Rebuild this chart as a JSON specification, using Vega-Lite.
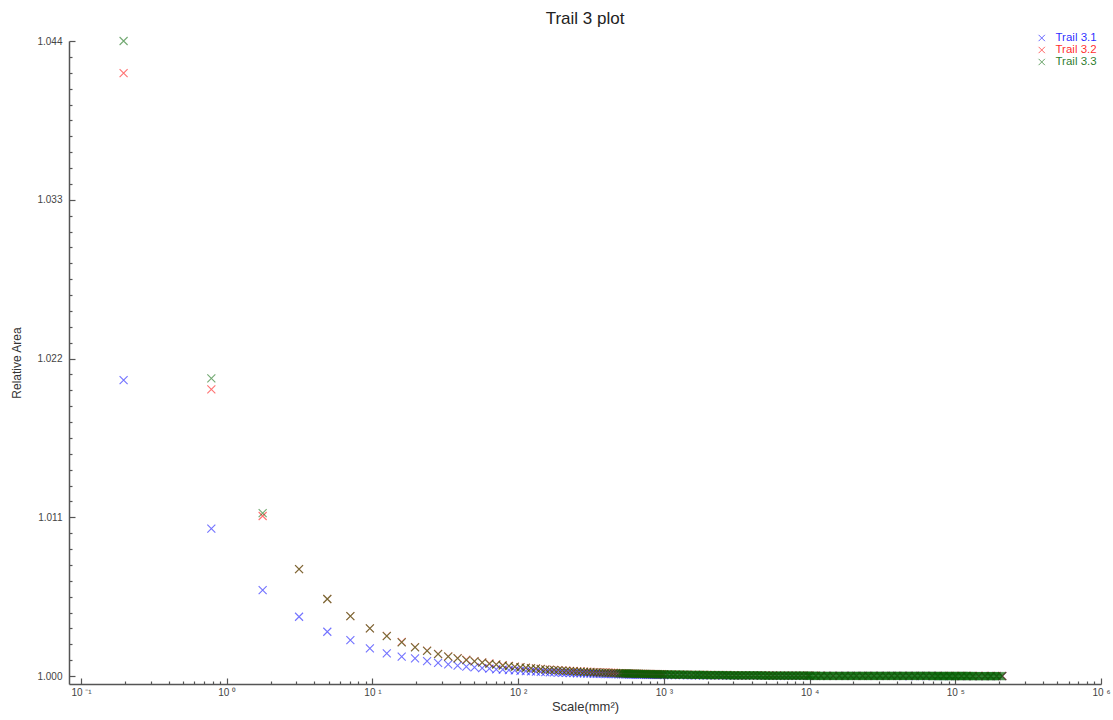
{
"$schema": "https://vega.github.io/schema/vega-lite/v6.json",
"autosize": {"type": "none"},
"padding": {"left": 69, "top": 41, "right": 12, "bottom": 36},
"width": 1032,
"height": 643,
"background": "white",
"title": {"text": "Trail 3 plot", "fontSize": 17, "font": "Liberation Sans", "fontWeight": "normal", "color": "#222222", "anchor": "middle", "baseline": "alphabetic", "offset": -8.5},
"config": {"view": {"stroke": null}, "axis": {"grid": false},
  "legend": {"orient": "none", "legendX": 967, "title": null, "padding": 0, "labelFont": "Liberation Sans", "labelFontSize": 11.5, "labelOffset": 8, "rowPadding": 0, "clipHeight": 12, "symbolType": "M-1,-1L1,1M-1,1L1,-1", "symbolSize": 40, "symbolStrokeWidth": 1, "symbolOpacity": 0.6, "symbolFillColor": "transparent", "labelOpacity": 0.85}},
"datasets": {"pts": [
{"s":"Trail 3.1","x":0.196,"y":1.02051},
{"s":"Trail 3.1","x":0.784,"y":1.01022},
{"s":"Trail 3.1","x":1.764,"y":1.00596},
{"s":"Trail 3.1","x":3.136,"y":1.00411},
{"s":"Trail 3.1","x":4.9,"y":1.00307},
{"s":"Trail 3.1","x":7.056,"y":1.00249},
{"s":"Trail 3.1","x":9.604,"y":1.00192},
{"s":"Trail 3.1","x":12.544,"y":1.00157},
{"s":"Trail 3.1","x":15.876,"y":1.00134},
{"s":"Trail 3.1","x":19.6,"y":1.00123},
{"s":"Trail 3.1","x":23.716,"y":1.00104},
{"s":"Trail 3.1","x":28.224,"y":1.00092},
{"s":"Trail 3.1","x":33.124,"y":1.00081},
{"s":"Trail 3.1","x":38.416,"y":1.00073},
{"s":"Trail 3.1","x":44.1,"y":1.00066},
{"s":"Trail 3.1","x":50.176,"y":1.0006},
{"s":"Trail 3.1","x":56.644,"y":1.00055},
{"s":"Trail 3.1","x":63.504,"y":1.00051},
{"s":"Trail 3.1","x":70.756,"y":1.00047},
{"s":"Trail 3.1","x":78.4,"y":1.00044},
{"s":"Trail 3.1","x":86.436,"y":1.00041},
{"s":"Trail 3.1","x":94.864,"y":1.00039},
{"s":"Trail 3.1","x":103.684,"y":1.00036},
{"s":"Trail 3.1","x":112.896,"y":1.00034},
{"s":"Trail 3.1","x":122.5,"y":1.00033},
{"s":"Trail 3.1","x":132.496,"y":1.00031},
{"s":"Trail 3.1","x":142.884,"y":1.00029},
{"s":"Trail 3.1","x":153.664,"y":1.00028},
{"s":"Trail 3.1","x":164.836,"y":1.00026},
{"s":"Trail 3.1","x":176.4,"y":1.00025},
{"s":"Trail 3.1","x":188.356,"y":1.00024},
{"s":"Trail 3.1","x":200.704,"y":1.00023},
{"s":"Trail 3.1","x":213.444,"y":1.00022},
{"s":"Trail 3.1","x":226.576,"y":1.00021},
{"s":"Trail 3.1","x":240.1,"y":1.0002},
{"s":"Trail 3.1","x":254.016,"y":1.00019},
{"s":"Trail 3.1","x":268.324,"y":1.00019},
{"s":"Trail 3.1","x":283.024,"y":1.00018},
{"s":"Trail 3.1","x":298.116,"y":1.00017},
{"s":"Trail 3.1","x":313.6,"y":1.00017},
{"s":"Trail 3.1","x":329.476,"y":1.00016},
{"s":"Trail 3.1","x":345.744,"y":1.00016},
{"s":"Trail 3.1","x":362.404,"y":1.00015},
{"s":"Trail 3.1","x":379.456,"y":1.00015},
{"s":"Trail 3.1","x":396.9,"y":1.00014},
{"s":"Trail 3.1","x":414.736,"y":1.00014},
{"s":"Trail 3.1","x":432.964,"y":1.00013},
{"s":"Trail 3.1","x":451.584,"y":1.00013},
{"s":"Trail 3.1","x":470.596,"y":1.00013},
{"s":"Trail 3.1","x":490,"y":1.00012},
{"s":"Trail 3.1","x":511,"y":1.000118},
{"s":"Trail 3.1","x":527,"y":1.000116},
{"s":"Trail 3.1","x":543,"y":1.000113},
{"s":"Trail 3.1","x":560,"y":1.000111},
{"s":"Trail 3.1","x":577,"y":1.000109},
{"s":"Trail 3.1","x":595,"y":1.000106},
{"s":"Trail 3.1","x":613,"y":1.000104},
{"s":"Trail 3.1","x":632,"y":1.000102},
{"s":"Trail 3.1","x":652,"y":1.0001},
{"s":"Trail 3.1","x":672,"y":1.000098},
{"s":"Trail 3.1","x":693,"y":1.000096},
{"s":"Trail 3.1","x":714,"y":1.000094},
{"s":"Trail 3.1","x":736,"y":1.000092},
{"s":"Trail 3.1","x":759,"y":1.00009},
{"s":"Trail 3.1","x":783,"y":1.000088},
{"s":"Trail 3.1","x":807,"y":1.000086},
{"s":"Trail 3.1","x":832,"y":1.000084},
{"s":"Trail 3.1","x":858,"y":1.000082},
{"s":"Trail 3.1","x":885,"y":1.000081},
{"s":"Trail 3.1","x":912,"y":1.000079},
{"s":"Trail 3.1","x":940,"y":1.000077},
{"s":"Trail 3.1","x":969,"y":1.000076},
{"s":"Trail 3.1","x":1000,"y":1.000074},
{"s":"Trail 3.1","x":1060,"y":1.000071},
{"s":"Trail 3.1","x":1130,"y":1.000068},
{"s":"Trail 3.1","x":1200,"y":1.000065},
{"s":"Trail 3.1","x":1280,"y":1.000062},
{"s":"Trail 3.1","x":1360,"y":1.00006},
{"s":"Trail 3.1","x":1450,"y":1.000057},
{"s":"Trail 3.1","x":1550,"y":1.000054},
{"s":"Trail 3.1","x":1650,"y":1.000052},
{"s":"Trail 3.1","x":1750,"y":1.00005},
{"s":"Trail 3.1","x":1860,"y":1.000048},
{"s":"Trail 3.1","x":1980,"y":1.000046},
{"s":"Trail 3.1","x":2100,"y":1.000044},
{"s":"Trail 3.1","x":2240,"y":1.000042},
{"s":"Trail 3.1","x":2380,"y":1.00004},
{"s":"Trail 3.1","x":2530,"y":1.000039},
{"s":"Trail 3.1","x":2690,"y":1.000037},
{"s":"Trail 3.1","x":2860,"y":1.000035},
{"s":"Trail 3.1","x":3040,"y":1.000034},
{"s":"Trail 3.1","x":3230,"y":1.000033},
{"s":"Trail 3.1","x":3430,"y":1.000031},
{"s":"Trail 3.1","x":3650,"y":1.00003},
{"s":"Trail 3.1","x":3880,"y":1.000029},
{"s":"Trail 3.1","x":4120,"y":1.000027},
{"s":"Trail 3.1","x":4380,"y":1.000026},
{"s":"Trail 3.1","x":4660,"y":1.000025},
{"s":"Trail 3.1","x":4960,"y":1.000024},
{"s":"Trail 3.1","x":5270,"y":1.000023},
{"s":"Trail 3.1","x":5600,"y":1.000022},
{"s":"Trail 3.1","x":5950,"y":1.000021},
{"s":"Trail 3.1","x":6320,"y":1.00002},
{"s":"Trail 3.1","x":6720,"y":1.00002},
{"s":"Trail 3.1","x":7140,"y":1.000019},
{"s":"Trail 3.1","x":7590,"y":1.000018},
{"s":"Trail 3.1","x":8070,"y":1.000017},
{"s":"Trail 3.1","x":8580,"y":1.000016},
{"s":"Trail 3.1","x":9120,"y":1.000016},
{"s":"Trail 3.1","x":9690,"y":1.000015},
{"s":"Trail 3.1","x":10000,"y":1.000015},
{"s":"Trail 3.1","x":11000,"y":1.000014},
{"s":"Trail 3.1","x":12000,"y":1.000013},
{"s":"Trail 3.1","x":13200,"y":1.000012},
{"s":"Trail 3.1","x":14500,"y":1.000011},
{"s":"Trail 3.1","x":16000,"y":1.000011},
{"s":"Trail 3.1","x":17500,"y":1.00001},
{"s":"Trail 3.1","x":19200,"y":1.000009},
{"s":"Trail 3.1","x":21000,"y":1.000009},
{"s":"Trail 3.1","x":23100,"y":1.000008},
{"s":"Trail 3.1","x":25300,"y":1.000008},
{"s":"Trail 3.1","x":27700,"y":1.000007},
{"s":"Trail 3.1","x":30400,"y":1.000007},
{"s":"Trail 3.1","x":33300,"y":1.000006},
{"s":"Trail 3.1","x":36500,"y":1.000006},
{"s":"Trail 3.1","x":40000,"y":1.000006},
{"s":"Trail 3.1","x":43800,"y":1.000005},
{"s":"Trail 3.1","x":48100,"y":1.000005},
{"s":"Trail 3.1","x":52700,"y":1.000005},
{"s":"Trail 3.1","x":57700,"y":1.000004},
{"s":"Trail 3.1","x":63200,"y":1.000004},
{"s":"Trail 3.1","x":69300,"y":1.000004},
{"s":"Trail 3.1","x":75900,"y":1.000004},
{"s":"Trail 3.1","x":83200,"y":1.000003},
{"s":"Trail 3.1","x":91200,"y":1.000003},
{"s":"Trail 3.1","x":100000,"y":1.000003},
{"s":"Trail 3.1","x":110000,"y":1.000003},
{"s":"Trail 3.1","x":120000,"y":1.000003},
{"s":"Trail 3.1","x":132000,"y":1.000002},
{"s":"Trail 3.1","x":145000,"y":1.000002},
{"s":"Trail 3.1","x":160000,"y":1.000002},
{"s":"Trail 3.1","x":175000,"y":1.000002},
{"s":"Trail 3.1","x":192000,"y":1.000002},
{"s":"Trail 3.1","x":210000,"y":1.000002},
{"s":"Trail 3.2","x":0.196,"y":1.04178},
{"s":"Trail 3.2","x":0.784,"y":1.01987},
{"s":"Trail 3.2","x":1.764,"y":1.01109},
{"s":"Trail 3.2","x":3.136,"y":1.00741},
{"s":"Trail 3.2","x":4.9,"y":1.00534},
{"s":"Trail 3.2","x":7.056,"y":1.00416},
{"s":"Trail 3.2","x":9.604,"y":1.00331},
{"s":"Trail 3.2","x":12.544,"y":1.00279},
{"s":"Trail 3.2","x":15.876,"y":1.00236},
{"s":"Trail 3.2","x":19.6,"y":1.00201},
{"s":"Trail 3.2","x":23.716,"y":1.00177},
{"s":"Trail 3.2","x":28.224,"y":1.00154},
{"s":"Trail 3.2","x":33.124,"y":1.00136},
{"s":"Trail 3.2","x":38.416,"y":1.00125},
{"s":"Trail 3.2","x":44.1,"y":1.00113},
{"s":"Trail 3.2","x":50.176,"y":1.00103},
{"s":"Trail 3.2","x":56.644,"y":1.00095},
{"s":"Trail 3.2","x":63.504,"y":1.00087},
{"s":"Trail 3.2","x":70.756,"y":1.00081},
{"s":"Trail 3.2","x":78.4,"y":1.00075},
{"s":"Trail 3.2","x":86.436,"y":1.00071},
{"s":"Trail 3.2","x":94.864,"y":1.00066},
{"s":"Trail 3.2","x":103.684,"y":1.00062},
{"s":"Trail 3.2","x":112.896,"y":1.00058},
{"s":"Trail 3.2","x":122.5,"y":1.00055},
{"s":"Trail 3.2","x":132.496,"y":1.00053},
{"s":"Trail 3.2","x":142.884,"y":1.0005},
{"s":"Trail 3.2","x":153.664,"y":1.00047},
{"s":"Trail 3.2","x":164.836,"y":1.00045},
{"s":"Trail 3.2","x":176.4,"y":1.00043},
{"s":"Trail 3.2","x":188.356,"y":1.00041},
{"s":"Trail 3.2","x":200.704,"y":1.00039},
{"s":"Trail 3.2","x":213.444,"y":1.00038},
{"s":"Trail 3.2","x":226.576,"y":1.00036},
{"s":"Trail 3.2","x":240.1,"y":1.00035},
{"s":"Trail 3.2","x":254.016,"y":1.00033},
{"s":"Trail 3.2","x":268.324,"y":1.00032},
{"s":"Trail 3.2","x":283.024,"y":1.00031},
{"s":"Trail 3.2","x":298.116,"y":1.0003},
{"s":"Trail 3.2","x":313.6,"y":1.00029},
{"s":"Trail 3.2","x":329.476,"y":1.00028},
{"s":"Trail 3.2","x":345.744,"y":1.00027},
{"s":"Trail 3.2","x":362.404,"y":1.00026},
{"s":"Trail 3.2","x":379.456,"y":1.00026},
{"s":"Trail 3.2","x":396.9,"y":1.00025},
{"s":"Trail 3.2","x":414.736,"y":1.00024},
{"s":"Trail 3.2","x":432.964,"y":1.00023},
{"s":"Trail 3.2","x":451.584,"y":1.00023},
{"s":"Trail 3.2","x":470.596,"y":1.00022},
{"s":"Trail 3.2","x":490,"y":1.00021},
{"s":"Trail 3.2","x":511,"y":1.000195},
{"s":"Trail 3.2","x":527,"y":1.000191},
{"s":"Trail 3.2","x":543,"y":1.000187},
{"s":"Trail 3.2","x":560,"y":1.000183},
{"s":"Trail 3.2","x":577,"y":1.000179},
{"s":"Trail 3.2","x":595,"y":1.000175},
{"s":"Trail 3.2","x":613,"y":1.000172},
{"s":"Trail 3.2","x":632,"y":1.000168},
{"s":"Trail 3.2","x":652,"y":1.000164},
{"s":"Trail 3.2","x":672,"y":1.000161},
{"s":"Trail 3.2","x":693,"y":1.000157},
{"s":"Trail 3.2","x":714,"y":1.000154},
{"s":"Trail 3.2","x":736,"y":1.000151},
{"s":"Trail 3.2","x":759,"y":1.000148},
{"s":"Trail 3.2","x":783,"y":1.000145},
{"s":"Trail 3.2","x":807,"y":1.000142},
{"s":"Trail 3.2","x":832,"y":1.000139},
{"s":"Trail 3.2","x":858,"y":1.000136},
{"s":"Trail 3.2","x":885,"y":1.000133},
{"s":"Trail 3.2","x":912,"y":1.00013},
{"s":"Trail 3.2","x":940,"y":1.000128},
{"s":"Trail 3.2","x":969,"y":1.000125},
{"s":"Trail 3.2","x":1000,"y":1.000121},
{"s":"Trail 3.2","x":1060,"y":1.000116},
{"s":"Trail 3.2","x":1130,"y":1.000111},
{"s":"Trail 3.2","x":1200,"y":1.000107},
{"s":"Trail 3.2","x":1280,"y":1.000102},
{"s":"Trail 3.2","x":1360,"y":1.000098},
{"s":"Trail 3.2","x":1450,"y":1.000094},
{"s":"Trail 3.2","x":1550,"y":1.000089},
{"s":"Trail 3.2","x":1650,"y":1.000086},
{"s":"Trail 3.2","x":1750,"y":1.000082},
{"s":"Trail 3.2","x":1860,"y":1.000079},
{"s":"Trail 3.2","x":1980,"y":1.000076},
{"s":"Trail 3.2","x":2100,"y":1.000073},
{"s":"Trail 3.2","x":2240,"y":1.00007},
{"s":"Trail 3.2","x":2380,"y":1.000067},
{"s":"Trail 3.2","x":2530,"y":1.000064},
{"s":"Trail 3.2","x":2690,"y":1.000061},
{"s":"Trail 3.2","x":2860,"y":1.000059},
{"s":"Trail 3.2","x":3040,"y":1.000057},
{"s":"Trail 3.2","x":3230,"y":1.000054},
{"s":"Trail 3.2","x":3430,"y":1.000052},
{"s":"Trail 3.2","x":3650,"y":1.00005},
{"s":"Trail 3.2","x":3880,"y":1.000048},
{"s":"Trail 3.2","x":4120,"y":1.000046},
{"s":"Trail 3.2","x":4380,"y":1.000044},
{"s":"Trail 3.2","x":4660,"y":1.000043},
{"s":"Trail 3.2","x":4960,"y":1.000041},
{"s":"Trail 3.2","x":5270,"y":1.000039},
{"s":"Trail 3.2","x":5600,"y":1.000038},
{"s":"Trail 3.2","x":5950,"y":1.000036},
{"s":"Trail 3.2","x":6320,"y":1.000035},
{"s":"Trail 3.2","x":6720,"y":1.000034},
{"s":"Trail 3.2","x":7140,"y":1.000032},
{"s":"Trail 3.2","x":7590,"y":1.000031},
{"s":"Trail 3.2","x":8070,"y":1.00003},
{"s":"Trail 3.2","x":8580,"y":1.000029},
{"s":"Trail 3.2","x":9120,"y":1.000028},
{"s":"Trail 3.2","x":9690,"y":1.000027},
{"s":"Trail 3.2","x":10000,"y":1.000023},
{"s":"Trail 3.2","x":11000,"y":1.000022},
{"s":"Trail 3.2","x":12000,"y":1.000021},
{"s":"Trail 3.2","x":13200,"y":1.000019},
{"s":"Trail 3.2","x":14500,"y":1.000018},
{"s":"Trail 3.2","x":16000,"y":1.000017},
{"s":"Trail 3.2","x":17500,"y":1.000016},
{"s":"Trail 3.2","x":19200,"y":1.000015},
{"s":"Trail 3.2","x":21000,"y":1.000014},
{"s":"Trail 3.2","x":23100,"y":1.000013},
{"s":"Trail 3.2","x":25300,"y":1.000012},
{"s":"Trail 3.2","x":27700,"y":1.000012},
{"s":"Trail 3.2","x":30400,"y":1.000011},
{"s":"Trail 3.2","x":33300,"y":1.00001},
{"s":"Trail 3.2","x":36500,"y":1.00001},
{"s":"Trail 3.2","x":40000,"y":1.000009},
{"s":"Trail 3.2","x":43800,"y":1.000009},
{"s":"Trail 3.2","x":48100,"y":1.000008},
{"s":"Trail 3.2","x":52700,"y":1.000008},
{"s":"Trail 3.2","x":57700,"y":1.000007},
{"s":"Trail 3.2","x":63200,"y":1.000007},
{"s":"Trail 3.2","x":69300,"y":1.000007},
{"s":"Trail 3.2","x":75900,"y":1.000006},
{"s":"Trail 3.2","x":83200,"y":1.000006},
{"s":"Trail 3.2","x":91200,"y":1.000006},
{"s":"Trail 3.2","x":100000,"y":1.000005},
{"s":"Trail 3.2","x":110000,"y":1.000005},
{"s":"Trail 3.2","x":120000,"y":1.000005},
{"s":"Trail 3.2","x":132000,"y":1.000004},
{"s":"Trail 3.2","x":145000,"y":1.000004},
{"s":"Trail 3.2","x":160000,"y":1.000004},
{"s":"Trail 3.2","x":175000,"y":1.000004},
{"s":"Trail 3.2","x":192000,"y":1.000004},
{"s":"Trail 3.2","x":210000,"y":1.000004},
{"s":"Trail 3.3","x":0.196,"y":1.044},
{"s":"Trail 3.3","x":0.784,"y":1.02063},
{"s":"Trail 3.3","x":1.764,"y":1.01129},
{"s":"Trail 3.3","x":3.136,"y":1.00741},
{"s":"Trail 3.3","x":4.9,"y":1.00534},
{"s":"Trail 3.3","x":7.056,"y":1.00416},
{"s":"Trail 3.3","x":9.604,"y":1.00331},
{"s":"Trail 3.3","x":12.544,"y":1.00277},
{"s":"Trail 3.3","x":15.876,"y":1.00234},
{"s":"Trail 3.3","x":19.6,"y":1.00199},
{"s":"Trail 3.3","x":23.716,"y":1.00175},
{"s":"Trail 3.3","x":28.224,"y":1.00152},
{"s":"Trail 3.3","x":33.124,"y":1.00134},
{"s":"Trail 3.3","x":38.416,"y":1.00123},
{"s":"Trail 3.3","x":44.1,"y":1.00111},
{"s":"Trail 3.3","x":50.176,"y":1.00101},
{"s":"Trail 3.3","x":56.644,"y":1.00093},
{"s":"Trail 3.3","x":63.504,"y":1.00085},
{"s":"Trail 3.3","x":70.756,"y":1.00079},
{"s":"Trail 3.3","x":78.4,"y":1.00073},
{"s":"Trail 3.3","x":86.436,"y":1.00069},
{"s":"Trail 3.3","x":94.864,"y":1.00064},
{"s":"Trail 3.3","x":103.684,"y":1.0006},
{"s":"Trail 3.3","x":112.896,"y":1.00056},
{"s":"Trail 3.3","x":122.5,"y":1.00053},
{"s":"Trail 3.3","x":132.496,"y":1.00051},
{"s":"Trail 3.3","x":142.884,"y":1.00048},
{"s":"Trail 3.3","x":153.664,"y":1.00045},
{"s":"Trail 3.3","x":164.836,"y":1.00043},
{"s":"Trail 3.3","x":176.4,"y":1.00041},
{"s":"Trail 3.3","x":188.356,"y":1.00039},
{"s":"Trail 3.3","x":200.704,"y":1.00037},
{"s":"Trail 3.3","x":213.444,"y":1.00036},
{"s":"Trail 3.3","x":226.576,"y":1.00034},
{"s":"Trail 3.3","x":240.1,"y":1.00033},
{"s":"Trail 3.3","x":254.016,"y":1.00031},
{"s":"Trail 3.3","x":268.324,"y":1.0003},
{"s":"Trail 3.3","x":283.024,"y":1.00029},
{"s":"Trail 3.3","x":298.116,"y":1.00028},
{"s":"Trail 3.3","x":313.6,"y":1.00027},
{"s":"Trail 3.3","x":329.476,"y":1.00026},
{"s":"Trail 3.3","x":345.744,"y":1.00025},
{"s":"Trail 3.3","x":362.404,"y":1.00024},
{"s":"Trail 3.3","x":379.456,"y":1.00024},
{"s":"Trail 3.3","x":396.9,"y":1.00023},
{"s":"Trail 3.3","x":414.736,"y":1.00022},
{"s":"Trail 3.3","x":432.964,"y":1.00021},
{"s":"Trail 3.3","x":451.584,"y":1.00021},
{"s":"Trail 3.3","x":470.596,"y":1.0002},
{"s":"Trail 3.3","x":490,"y":1.00019},
{"s":"Trail 3.3","x":500,"y":1.000192},
{"s":"Trail 3.3","x":511,"y":1.00019},
{"s":"Trail 3.3","x":519,"y":1.000188},
{"s":"Trail 3.3","x":527,"y":1.000186},
{"s":"Trail 3.3","x":535,"y":1.000184},
{"s":"Trail 3.3","x":543,"y":1.000182},
{"s":"Trail 3.3","x":551,"y":1.00018},
{"s":"Trail 3.3","x":560,"y":1.000178},
{"s":"Trail 3.3","x":568,"y":1.000176},
{"s":"Trail 3.3","x":577,"y":1.000174},
{"s":"Trail 3.3","x":586,"y":1.000172},
{"s":"Trail 3.3","x":595,"y":1.00017},
{"s":"Trail 3.3","x":604,"y":1.000168},
{"s":"Trail 3.3","x":613,"y":1.000167},
{"s":"Trail 3.3","x":622,"y":1.000165},
{"s":"Trail 3.3","x":632,"y":1.000163},
{"s":"Trail 3.3","x":642,"y":1.000161},
{"s":"Trail 3.3","x":652,"y":1.000159},
{"s":"Trail 3.3","x":662,"y":1.000158},
{"s":"Trail 3.3","x":672,"y":1.000156},
{"s":"Trail 3.3","x":682,"y":1.000154},
{"s":"Trail 3.3","x":693,"y":1.000152},
{"s":"Trail 3.3","x":703,"y":1.000151},
{"s":"Trail 3.3","x":714,"y":1.000149},
{"s":"Trail 3.3","x":725,"y":1.000147},
{"s":"Trail 3.3","x":736,"y":1.000146},
{"s":"Trail 3.3","x":747,"y":1.000144},
{"s":"Trail 3.3","x":759,"y":1.000143},
{"s":"Trail 3.3","x":771,"y":1.000141},
{"s":"Trail 3.3","x":783,"y":1.00014},
{"s":"Trail 3.3","x":795,"y":1.000138},
{"s":"Trail 3.3","x":807,"y":1.000137},
{"s":"Trail 3.3","x":819,"y":1.000135},
{"s":"Trail 3.3","x":832,"y":1.000134},
{"s":"Trail 3.3","x":845,"y":1.000132},
{"s":"Trail 3.3","x":858,"y":1.000131},
{"s":"Trail 3.3","x":871,"y":1.000129},
{"s":"Trail 3.3","x":885,"y":1.000128},
{"s":"Trail 3.3","x":898,"y":1.000126},
{"s":"Trail 3.3","x":912,"y":1.000125},
{"s":"Trail 3.3","x":926,"y":1.000124},
{"s":"Trail 3.3","x":940,"y":1.000123},
{"s":"Trail 3.3","x":954,"y":1.000121},
{"s":"Trail 3.3","x":969,"y":1.00012},
{"s":"Trail 3.3","x":984,"y":1.000118},
{"s":"Trail 3.3","x":1000,"y":1.000117},
{"s":"Trail 3.3","x":1015,"y":1.000116},
{"s":"Trail 3.3","x":1030,"y":1.000115},
{"s":"Trail 3.3","x":1045,"y":1.000113},
{"s":"Trail 3.3","x":1060,"y":1.000112},
{"s":"Trail 3.3","x":1080,"y":1.00011},
{"s":"Trail 3.3","x":1100,"y":1.000109},
{"s":"Trail 3.3","x":1115,"y":1.000108},
{"s":"Trail 3.3","x":1130,"y":1.000107},
{"s":"Trail 3.3","x":1150,"y":1.000105},
{"s":"Trail 3.3","x":1170,"y":1.000104},
{"s":"Trail 3.3","x":1185,"y":1.000103},
{"s":"Trail 3.3","x":1200,"y":1.000103},
{"s":"Trail 3.3","x":1220,"y":1.000101},
{"s":"Trail 3.3","x":1240,"y":1.0001},
{"s":"Trail 3.3","x":1260,"y":1.000099},
{"s":"Trail 3.3","x":1280,"y":1.000098},
{"s":"Trail 3.3","x":1300,"y":1.000097},
{"s":"Trail 3.3","x":1320,"y":1.000096},
{"s":"Trail 3.3","x":1340,"y":1.000095},
{"s":"Trail 3.3","x":1360,"y":1.000094},
{"s":"Trail 3.3","x":1380,"y":1.000093},
{"s":"Trail 3.3","x":1400,"y":1.000092},
{"s":"Trail 3.3","x":1425,"y":1.000091},
{"s":"Trail 3.3","x":1450,"y":1.00009},
{"s":"Trail 3.3","x":1475,"y":1.000088},
{"s":"Trail 3.3","x":1500,"y":1.000087},
{"s":"Trail 3.3","x":1525,"y":1.000086},
{"s":"Trail 3.3","x":1550,"y":1.000085},
{"s":"Trail 3.3","x":1575,"y":1.000084},
{"s":"Trail 3.3","x":1600,"y":1.000083},
{"s":"Trail 3.3","x":1625,"y":1.000082},
{"s":"Trail 3.3","x":1650,"y":1.000082},
{"s":"Trail 3.3","x":1675,"y":1.000081},
{"s":"Trail 3.3","x":1700,"y":1.00008},
{"s":"Trail 3.3","x":1725,"y":1.000079},
{"s":"Trail 3.3","x":1750,"y":1.000078},
{"s":"Trail 3.3","x":1775,"y":1.000077},
{"s":"Trail 3.3","x":1800,"y":1.000077},
{"s":"Trail 3.3","x":1830,"y":1.000076},
{"s":"Trail 3.3","x":1860,"y":1.000075},
{"s":"Trail 3.3","x":1890,"y":1.000074},
{"s":"Trail 3.3","x":1920,"y":1.000073},
{"s":"Trail 3.3","x":1950,"y":1.000072},
{"s":"Trail 3.3","x":1980,"y":1.000072},
{"s":"Trail 3.3","x":2010,"y":1.000071},
{"s":"Trail 3.3","x":2040,"y":1.00007},
{"s":"Trail 3.3","x":2070,"y":1.000069},
{"s":"Trail 3.3","x":2100,"y":1.000069},
{"s":"Trail 3.3","x":2135,"y":1.000068},
{"s":"Trail 3.3","x":2170,"y":1.000067},
{"s":"Trail 3.3","x":2205,"y":1.000066},
{"s":"Trail 3.3","x":2240,"y":1.000066},
{"s":"Trail 3.3","x":2275,"y":1.000065},
{"s":"Trail 3.3","x":2310,"y":1.000064},
{"s":"Trail 3.3","x":2345,"y":1.000063},
{"s":"Trail 3.3","x":2380,"y":1.000063},
{"s":"Trail 3.3","x":2415,"y":1.000062},
{"s":"Trail 3.3","x":2450,"y":1.000061},
{"s":"Trail 3.3","x":2490,"y":1.00006},
{"s":"Trail 3.3","x":2530,"y":1.00006},
{"s":"Trail 3.3","x":2570,"y":1.000059},
{"s":"Trail 3.3","x":2610,"y":1.000059},
{"s":"Trail 3.3","x":2650,"y":1.000058},
{"s":"Trail 3.3","x":2690,"y":1.000057},
{"s":"Trail 3.3","x":2730,"y":1.000057},
{"s":"Trail 3.3","x":2770,"y":1.000056},
{"s":"Trail 3.3","x":2815,"y":1.000055},
{"s":"Trail 3.3","x":2860,"y":1.000055},
{"s":"Trail 3.3","x":2905,"y":1.000054},
{"s":"Trail 3.3","x":2950,"y":1.000054},
{"s":"Trail 3.3","x":2995,"y":1.000053},
{"s":"Trail 3.3","x":3040,"y":1.000053},
{"s":"Trail 3.3","x":3085,"y":1.000052},
{"s":"Trail 3.3","x":3130,"y":1.000051},
{"s":"Trail 3.3","x":3180,"y":1.000051},
{"s":"Trail 3.3","x":3230,"y":1.00005},
{"s":"Trail 3.3","x":3280,"y":1.00005},
{"s":"Trail 3.3","x":3330,"y":1.000049},
{"s":"Trail 3.3","x":3380,"y":1.000049},
{"s":"Trail 3.3","x":3430,"y":1.000048},
{"s":"Trail 3.3","x":3485,"y":1.000048},
{"s":"Trail 3.3","x":3540,"y":1.000047},
{"s":"Trail 3.3","x":3595,"y":1.000047},
{"s":"Trail 3.3","x":3650,"y":1.000046},
{"s":"Trail 3.3","x":3705,"y":1.000046},
{"s":"Trail 3.3","x":3760,"y":1.000045},
{"s":"Trail 3.3","x":3820,"y":1.000045},
{"s":"Trail 3.3","x":3880,"y":1.000044},
{"s":"Trail 3.3","x":3940,"y":1.000044},
{"s":"Trail 3.3","x":4000,"y":1.000043},
{"s":"Trail 3.3","x":4060,"y":1.000043},
{"s":"Trail 3.3","x":4120,"y":1.000042},
{"s":"Trail 3.3","x":4185,"y":1.000042},
{"s":"Trail 3.3","x":4250,"y":1.000041},
{"s":"Trail 3.3","x":4315,"y":1.000041},
{"s":"Trail 3.3","x":4380,"y":1.00004},
{"s":"Trail 3.3","x":4450,"y":1.00004},
{"s":"Trail 3.3","x":4520,"y":1.00004},
{"s":"Trail 3.3","x":4590,"y":1.000039},
{"s":"Trail 3.3","x":4660,"y":1.000039},
{"s":"Trail 3.3","x":4735,"y":1.000038},
{"s":"Trail 3.3","x":4810,"y":1.000038},
{"s":"Trail 3.3","x":4885,"y":1.000037},
{"s":"Trail 3.3","x":4960,"y":1.000037},
{"s":"Trail 3.3","x":5035,"y":1.000036},
{"s":"Trail 3.3","x":5110,"y":1.000036},
{"s":"Trail 3.3","x":5190,"y":1.000036},
{"s":"Trail 3.3","x":5270,"y":1.000035},
{"s":"Trail 3.3","x":5350,"y":1.000035},
{"s":"Trail 3.3","x":5430,"y":1.000035},
{"s":"Trail 3.3","x":5515,"y":1.000034},
{"s":"Trail 3.3","x":5600,"y":1.000034},
{"s":"Trail 3.3","x":5685,"y":1.000033},
{"s":"Trail 3.3","x":5770,"y":1.000033},
{"s":"Trail 3.3","x":5860,"y":1.000033},
{"s":"Trail 3.3","x":5950,"y":1.000032},
{"s":"Trail 3.3","x":6040,"y":1.000032},
{"s":"Trail 3.3","x":6130,"y":1.000032},
{"s":"Trail 3.3","x":6225,"y":1.000031},
{"s":"Trail 3.3","x":6320,"y":1.000031},
{"s":"Trail 3.3","x":6420,"y":1.000031},
{"s":"Trail 3.3","x":6520,"y":1.00003},
{"s":"Trail 3.3","x":6620,"y":1.00003},
{"s":"Trail 3.3","x":6720,"y":1.00003},
{"s":"Trail 3.3","x":6825,"y":1.000029},
{"s":"Trail 3.3","x":6930,"y":1.000029},
{"s":"Trail 3.3","x":7035,"y":1.000029},
{"s":"Trail 3.3","x":7140,"y":1.000028},
{"s":"Trail 3.3","x":7250,"y":1.000028},
{"s":"Trail 3.3","x":7360,"y":1.000028},
{"s":"Trail 3.3","x":7475,"y":1.000027},
{"s":"Trail 3.3","x":7590,"y":1.000027},
{"s":"Trail 3.3","x":7710,"y":1.000027},
{"s":"Trail 3.3","x":7830,"y":1.000027},
{"s":"Trail 3.3","x":7950,"y":1.000026},
{"s":"Trail 3.3","x":8070,"y":1.000026},
{"s":"Trail 3.3","x":8195,"y":1.000026},
{"s":"Trail 3.3","x":8320,"y":1.000025},
{"s":"Trail 3.3","x":8450,"y":1.000025},
{"s":"Trail 3.3","x":8580,"y":1.000025},
{"s":"Trail 3.3","x":8715,"y":1.000024},
{"s":"Trail 3.3","x":8850,"y":1.000024},
{"s":"Trail 3.3","x":8985,"y":1.000024},
{"s":"Trail 3.3","x":9120,"y":1.000024},
{"s":"Trail 3.3","x":9260,"y":1.000023},
{"s":"Trail 3.3","x":9400,"y":1.000023},
{"s":"Trail 3.3","x":9545,"y":1.000023},
{"s":"Trail 3.3","x":9690,"y":1.000023},
{"s":"Trail 3.3","x":9845,"y":1.000022},
{"s":"Trail 3.3","x":10000,"y":1.000022},
{"s":"Trail 3.3","x":10150,"y":1.000022},
{"s":"Trail 3.3","x":10300,"y":1.000022},
{"s":"Trail 3.3","x":10450,"y":1.000021},
{"s":"Trail 3.3","x":10600,"y":1.000021},
{"s":"Trail 3.3","x":10800,"y":1.000021},
{"s":"Trail 3.3","x":11000,"y":1.000021},
{"s":"Trail 3.3","x":11150,"y":1.00002},
{"s":"Trail 3.3","x":11300,"y":1.00002},
{"s":"Trail 3.3","x":11500,"y":1.00002},
{"s":"Trail 3.3","x":11700,"y":1.00002},
{"s":"Trail 3.3","x":11850,"y":1.00002},
{"s":"Trail 3.3","x":12000,"y":1.00002},
{"s":"Trail 3.3","x":12200,"y":1.000019},
{"s":"Trail 3.3","x":12400,"y":1.000019},
{"s":"Trail 3.3","x":12600,"y":1.000019},
{"s":"Trail 3.3","x":12800,"y":1.000019},
{"s":"Trail 3.3","x":13000,"y":1.000018},
{"s":"Trail 3.3","x":13200,"y":1.000018},
{"s":"Trail 3.3","x":13400,"y":1.000018},
{"s":"Trail 3.3","x":13600,"y":1.000018},
{"s":"Trail 3.3","x":13800,"y":1.000018},
{"s":"Trail 3.3","x":14000,"y":1.000018},
{"s":"Trail 3.3","x":14250,"y":1.000017},
{"s":"Trail 3.3","x":14500,"y":1.000017},
{"s":"Trail 3.3","x":14750,"y":1.000017},
{"s":"Trail 3.3","x":15000,"y":1.000017},
{"s":"Trail 3.3","x":15250,"y":1.000016},
{"s":"Trail 3.3","x":15500,"y":1.000016},
{"s":"Trail 3.3","x":15750,"y":1.000016},
{"s":"Trail 3.3","x":16000,"y":1.000016},
{"s":"Trail 3.3","x":16250,"y":1.000016},
{"s":"Trail 3.3","x":16500,"y":1.000016},
{"s":"Trail 3.3","x":16750,"y":1.000015},
{"s":"Trail 3.3","x":17000,"y":1.000015},
{"s":"Trail 3.3","x":17250,"y":1.000015},
{"s":"Trail 3.3","x":17500,"y":1.000015},
{"s":"Trail 3.3","x":17750,"y":1.000015},
{"s":"Trail 3.3","x":18000,"y":1.000015},
{"s":"Trail 3.3","x":18300,"y":1.000014},
{"s":"Trail 3.3","x":18600,"y":1.000014},
{"s":"Trail 3.3","x":18900,"y":1.000014},
{"s":"Trail 3.3","x":19200,"y":1.000014},
{"s":"Trail 3.3","x":19500,"y":1.000014},
{"s":"Trail 3.3","x":19800,"y":1.000014},
{"s":"Trail 3.3","x":20100,"y":1.000013},
{"s":"Trail 3.3","x":20400,"y":1.000013},
{"s":"Trail 3.3","x":20700,"y":1.000013},
{"s":"Trail 3.3","x":21000,"y":1.000013},
{"s":"Trail 3.3","x":21350,"y":1.000013},
{"s":"Trail 3.3","x":21700,"y":1.000013},
{"s":"Trail 3.3","x":22050,"y":1.000013},
{"s":"Trail 3.3","x":22400,"y":1.000013},
{"s":"Trail 3.3","x":22750,"y":1.000012},
{"s":"Trail 3.3","x":23100,"y":1.000012},
{"s":"Trail 3.3","x":23450,"y":1.000012},
{"s":"Trail 3.3","x":23800,"y":1.000012},
{"s":"Trail 3.3","x":24150,"y":1.000012},
{"s":"Trail 3.3","x":24500,"y":1.000012},
{"s":"Trail 3.3","x":24900,"y":1.000012},
{"s":"Trail 3.3","x":25300,"y":1.000011},
{"s":"Trail 3.3","x":25700,"y":1.000011},
{"s":"Trail 3.3","x":26100,"y":1.000011},
{"s":"Trail 3.3","x":26500,"y":1.000011},
{"s":"Trail 3.3","x":26900,"y":1.000011},
{"s":"Trail 3.3","x":27300,"y":1.000011},
{"s":"Trail 3.3","x":27700,"y":1.000011},
{"s":"Trail 3.3","x":28150,"y":1.000011},
{"s":"Trail 3.3","x":28600,"y":1.000011},
{"s":"Trail 3.3","x":29050,"y":1.00001},
{"s":"Trail 3.3","x":29500,"y":1.00001},
{"s":"Trail 3.3","x":29950,"y":1.00001},
{"s":"Trail 3.3","x":30400,"y":1.00001},
{"s":"Trail 3.3","x":30850,"y":1.00001},
{"s":"Trail 3.3","x":31300,"y":1.00001},
{"s":"Trail 3.3","x":31800,"y":1.00001},
{"s":"Trail 3.3","x":32300,"y":1.00001},
{"s":"Trail 3.3","x":32800,"y":1.00001},
{"s":"Trail 3.3","x":33300,"y":1.000009},
{"s":"Trail 3.3","x":33800,"y":1.000009},
{"s":"Trail 3.3","x":34300,"y":1.000009},
{"s":"Trail 3.3","x":34850,"y":1.000009},
{"s":"Trail 3.3","x":35400,"y":1.000009},
{"s":"Trail 3.3","x":35950,"y":1.000009},
{"s":"Trail 3.3","x":36500,"y":1.000009},
{"s":"Trail 3.3","x":37050,"y":1.000009},
{"s":"Trail 3.3","x":37600,"y":1.000008},
{"s":"Trail 3.3","x":38200,"y":1.000008},
{"s":"Trail 3.3","x":38800,"y":1.000008},
{"s":"Trail 3.3","x":39400,"y":1.000008},
{"s":"Trail 3.3","x":40000,"y":1.000008},
{"s":"Trail 3.3","x":40600,"y":1.000008},
{"s":"Trail 3.3","x":41200,"y":1.000008},
{"s":"Trail 3.3","x":41850,"y":1.000008},
{"s":"Trail 3.3","x":42500,"y":1.000008},
{"s":"Trail 3.3","x":43150,"y":1.000008},
{"s":"Trail 3.3","x":43800,"y":1.000008},
{"s":"Trail 3.3","x":44500,"y":1.000007},
{"s":"Trail 3.3","x":45200,"y":1.000007},
{"s":"Trail 3.3","x":45900,"y":1.000007},
{"s":"Trail 3.3","x":46600,"y":1.000007},
{"s":"Trail 3.3","x":47350,"y":1.000007},
{"s":"Trail 3.3","x":48100,"y":1.000007},
{"s":"Trail 3.3","x":48850,"y":1.000007},
{"s":"Trail 3.3","x":49600,"y":1.000007},
{"s":"Trail 3.3","x":50350,"y":1.000007},
{"s":"Trail 3.3","x":51100,"y":1.000007},
{"s":"Trail 3.3","x":51900,"y":1.000007},
{"s":"Trail 3.3","x":52700,"y":1.000007},
{"s":"Trail 3.3","x":53500,"y":1.000007},
{"s":"Trail 3.3","x":54300,"y":1.000007},
{"s":"Trail 3.3","x":55150,"y":1.000006},
{"s":"Trail 3.3","x":56000,"y":1.000006},
{"s":"Trail 3.3","x":56850,"y":1.000006},
{"s":"Trail 3.3","x":57700,"y":1.000006},
{"s":"Trail 3.3","x":58600,"y":1.000006},
{"s":"Trail 3.3","x":59500,"y":1.000006},
{"s":"Trail 3.3","x":60400,"y":1.000006},
{"s":"Trail 3.3","x":61300,"y":1.000006},
{"s":"Trail 3.3","x":62250,"y":1.000006},
{"s":"Trail 3.3","x":63200,"y":1.000006},
{"s":"Trail 3.3","x":64200,"y":1.000006},
{"s":"Trail 3.3","x":65200,"y":1.000006},
{"s":"Trail 3.3","x":66200,"y":1.000006},
{"s":"Trail 3.3","x":67200,"y":1.000006},
{"s":"Trail 3.3","x":68250,"y":1.000006},
{"s":"Trail 3.3","x":69300,"y":1.000006},
{"s":"Trail 3.3","x":70350,"y":1.000005},
{"s":"Trail 3.3","x":71400,"y":1.000005},
{"s":"Trail 3.3","x":72500,"y":1.000005},
{"s":"Trail 3.3","x":73600,"y":1.000005},
{"s":"Trail 3.3","x":74750,"y":1.000005},
{"s":"Trail 3.3","x":75900,"y":1.000005},
{"s":"Trail 3.3","x":77100,"y":1.000005},
{"s":"Trail 3.3","x":78300,"y":1.000005},
{"s":"Trail 3.3","x":79500,"y":1.000005},
{"s":"Trail 3.3","x":80700,"y":1.000005},
{"s":"Trail 3.3","x":81950,"y":1.000005},
{"s":"Trail 3.3","x":83200,"y":1.000005},
{"s":"Trail 3.3","x":84500,"y":1.000005},
{"s":"Trail 3.3","x":85800,"y":1.000005},
{"s":"Trail 3.3","x":87150,"y":1.000005},
{"s":"Trail 3.3","x":88500,"y":1.000005},
{"s":"Trail 3.3","x":89850,"y":1.000005},
{"s":"Trail 3.3","x":91200,"y":1.000005},
{"s":"Trail 3.3","x":92600,"y":1.000004},
{"s":"Trail 3.3","x":94000,"y":1.000004},
{"s":"Trail 3.3","x":95450,"y":1.000004},
{"s":"Trail 3.3","x":96900,"y":1.000004},
{"s":"Trail 3.3","x":98450,"y":1.000004},
{"s":"Trail 3.3","x":100000,"y":1.000004},
{"s":"Trail 3.3","x":101500,"y":1.000004},
{"s":"Trail 3.3","x":103000,"y":1.000004},
{"s":"Trail 3.3","x":104500,"y":1.000004},
{"s":"Trail 3.3","x":106000,"y":1.000004},
{"s":"Trail 3.3","x":108000,"y":1.000004},
{"s":"Trail 3.3","x":110000,"y":1.000004},
{"s":"Trail 3.3","x":111500,"y":1.000004},
{"s":"Trail 3.3","x":113000,"y":1.000004},
{"s":"Trail 3.3","x":115000,"y":1.000004},
{"s":"Trail 3.3","x":117000,"y":1.000004},
{"s":"Trail 3.3","x":118500,"y":1.000004},
{"s":"Trail 3.3","x":120000,"y":1.000004},
{"s":"Trail 3.3","x":122000,"y":1.000004},
{"s":"Trail 3.3","x":124000,"y":1.000004},
{"s":"Trail 3.3","x":126000,"y":1.000004},
{"s":"Trail 3.3","x":128000,"y":1.000004},
{"s":"Trail 3.3","x":130000,"y":1.000003},
{"s":"Trail 3.3","x":132000,"y":1.000003},
{"s":"Trail 3.3","x":134000,"y":1.000003},
{"s":"Trail 3.3","x":136000,"y":1.000003},
{"s":"Trail 3.3","x":138000,"y":1.000003},
{"s":"Trail 3.3","x":140000,"y":1.000003},
{"s":"Trail 3.3","x":142500,"y":1.000003},
{"s":"Trail 3.3","x":145000,"y":1.000003},
{"s":"Trail 3.3","x":147500,"y":1.000003},
{"s":"Trail 3.3","x":150000,"y":1.000003},
{"s":"Trail 3.3","x":152500,"y":1.000003},
{"s":"Trail 3.3","x":155000,"y":1.000003},
{"s":"Trail 3.3","x":157500,"y":1.000003},
{"s":"Trail 3.3","x":160000,"y":1.000003},
{"s":"Trail 3.3","x":162500,"y":1.000003},
{"s":"Trail 3.3","x":165000,"y":1.000003},
{"s":"Trail 3.3","x":167500,"y":1.000003},
{"s":"Trail 3.3","x":170000,"y":1.000003},
{"s":"Trail 3.3","x":172500,"y":1.000003},
{"s":"Trail 3.3","x":175000,"y":1.000003},
{"s":"Trail 3.3","x":177500,"y":1.000003},
{"s":"Trail 3.3","x":180000,"y":1.000003},
{"s":"Trail 3.3","x":183000,"y":1.000003},
{"s":"Trail 3.3","x":186000,"y":1.000003},
{"s":"Trail 3.3","x":189000,"y":1.000003},
{"s":"Trail 3.3","x":192000,"y":1.000003},
{"s":"Trail 3.3","x":195000,"y":1.000003},
{"s":"Trail 3.3","x":198000,"y":1.000003},
{"s":"Trail 3.3","x":201000,"y":1.000003},
{"s":"Trail 3.3","x":204000,"y":1.000003},
{"s":"Trail 3.3","x":207000,"y":1.000003},
{"s":"Trail 3.3","x":210000,"y":1.000003}
]},
"data": {"name": "pts"},
"encoding": {
  "x": {"field": "x", "type": "quantitative",
    "scale": {"type": "log", "domain": [0.0827, 1000000], "nice": false},
    "axis": {"title": "Scale(mm²)", "titleFont": "Liberation Sans", "titleFontSize": 13, "titleFontWeight": "normal", "titleColor": "#333333", "titlePadding": 0,
      "values": [0.1,0.2,0.3,0.4,0.5,0.6,0.7,0.8,0.9,1,2,3,4,5,6,7,8,9,10,20,30,40,50,60,70,80,90,100,200,300,400,500,600,700,800,900,1000,2000,3000,4000,5000,6000,7000,8000,9000,10000,20000,30000,40000,50000,60000,70000,80000,90000,100000,200000,300000,400000,500000,600000,700000,800000,900000,1000000],
      "labelExpr": "abs(log(datum.value)/LN10 - round(log(datum.value)/LN10)) < 0.000001 ? '10 ' + ['⁻¹','⁰','¹','²','³','⁴','⁵','⁶'][round(log(datum.value)/LN10)+1] : ''",
      "labelOverlap": false, "labelFlush": false, "labelFont": "Liberation Sans", "labelFontSize": 10, "labelColor": "#444444", "labelPadding": 9,
      "tickSize": {"condition": {"test": "abs(log(datum.value)/LN10 - round(log(datum.value)/LN10)) < 0.000001", "value": -6}, "value": -3},
      "tickColor": "#555555", "tickWidth": 1.2, "domainColor": "#555555", "domainWidth": 1.5}},
  "y": {"field": "y", "type": "quantitative",
    "scale": {"domain": [0.99945, 1.044], "nice": false, "zero": false},
    "axis": {"title": "Relative Area", "titleFont": "Liberation Sans", "titleFontSize": 12, "titleFontWeight": "normal", "titleColor": "#333333", "titlePadding": 13,
      "values": [1,1.0011,1.0022,1.0033,1.0044,1.0055,1.0066,1.0077,1.0088,1.0099,1.011,1.0121,1.0132,1.0143,1.0154,1.0165,1.0176,1.0187,1.0198,1.0209,1.022,1.0231,1.0242,1.0253,1.0264,1.0275,1.0286,1.0297,1.0308,1.0319,1.033,1.0341,1.0352,1.0363,1.0374,1.0385,1.0396,1.0407,1.0418,1.0429,1.044],
      "labelExpr": "round((datum.value-1)*10000) % 110 == 0 ? format(datum.value, '.3f') : ''",
      "labelOverlap": false, "labelFlush": false, "labelFont": "Liberation Sans", "labelFontSize": 10, "labelColor": "#444444", "labelPadding": 13,
      "tickSize": {"condition": {"test": "round((datum.value-1)*10000) % 110 == 0", "value": -6}, "value": -3},
      "tickColor": "#555555", "tickWidth": 1.2, "domainColor": "#555555", "domainWidth": 1.5}}
},
"layer": [
  {"transform": [{"filter": "datum.s == 'Trail 3.1'"}],
   "mark": {"type": "point", "shape": "M-1,-1L1,1M-1,1L1,-1", "filled": false, "size": 64, "strokeWidth": 1.1, "opacity": 0.55},
   "encoding": {"color": {"field": "s", "type": "nominal", "scale": {"domain": ["Trail 3.1"], "range": ["#0000ff"]}, "legend": {"legendY": -9, "labelColor": "#0000ff"}}}},
  {"transform": [{"filter": "datum.s == 'Trail 3.2'"}],
   "mark": {"type": "point", "shape": "M-1,-1L1,1M-1,1L1,-1", "filled": false, "size": 64, "strokeWidth": 1.1, "opacity": 0.55},
   "encoding": {"color": {"field": "s", "type": "nominal", "scale": {"domain": ["Trail 3.2"], "range": ["#ff0000"]}, "legend": {"legendY": 3, "labelColor": "#ff0000"}}}},
  {"transform": [{"filter": "datum.s == 'Trail 3.3'"}],
   "mark": {"type": "point", "shape": "M-1,-1L1,1M-1,1L1,-1", "filled": false, "size": 64, "strokeWidth": 1.1, "opacity": 0.55},
   "encoding": {"color": {"field": "s", "type": "nominal", "scale": {"domain": ["Trail 3.3"], "range": ["#006400"]}, "legend": {"legendY": 15, "labelColor": "#006400"}}}}
],
"resolve": {"scale": {"color": "independent"}}
}
